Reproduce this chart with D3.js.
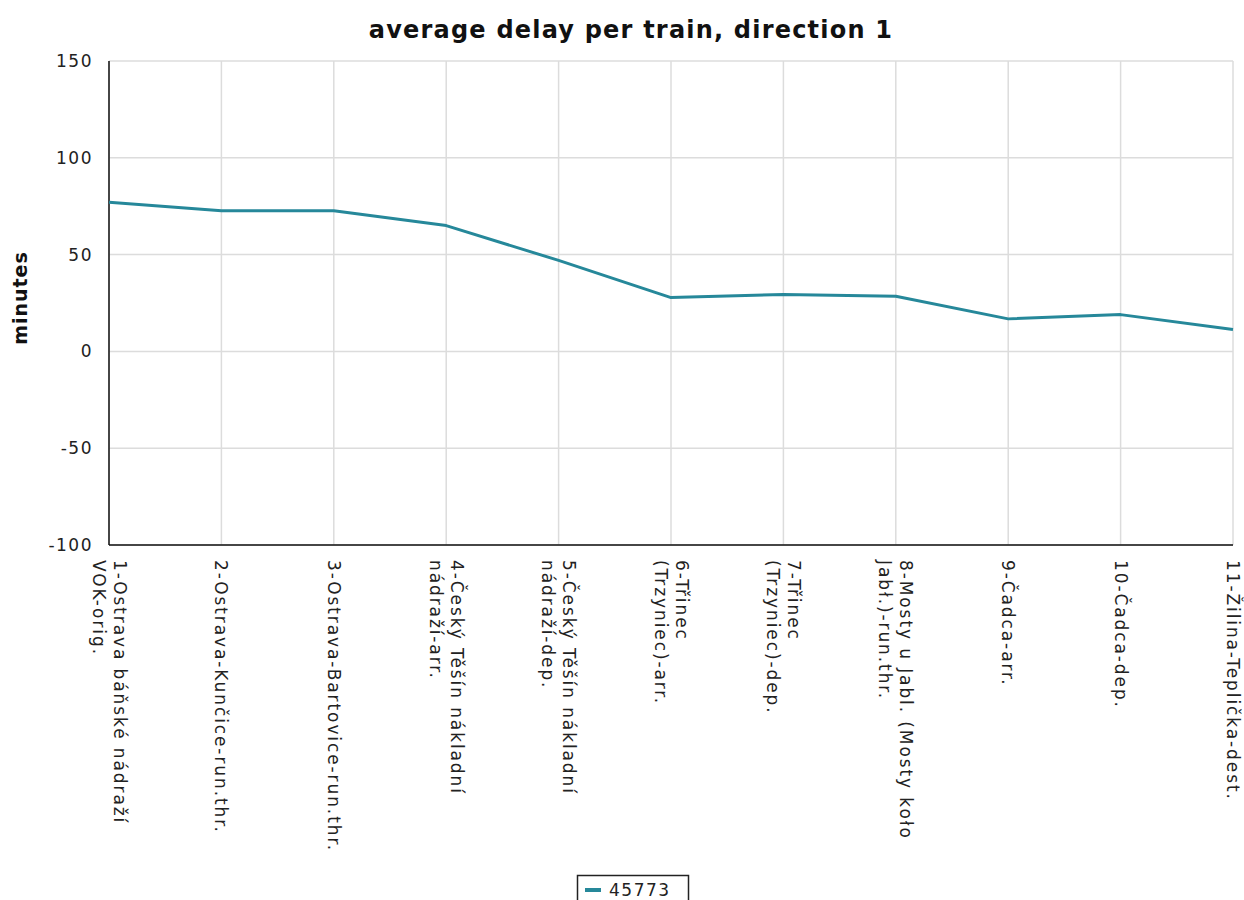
<!DOCTYPE html>
<html>
<head>
<meta charset="utf-8">
<script src="https://cdn.jsdelivr.net/npm/d3@7"></script>
<style>
  html, body { margin: 0; padding: 0; background: #fff; }
  svg { display: block; }
  text { font-family: "DejaVu Sans", sans-serif; }
</style>
</head>
<body>
<svg id="chart" width="1244" height="900"></svg>
<script>
const titleText = "average delay per train, direction 1";
const yAxisTitle = "minutes";
const seriesName = "45773";
const categories = [
  ["1-Ostrava báňské nádraží", "VOK-orig."],
  ["2-Ostrava-Kunčice-run.thr."],
  ["3-Ostrava-Bartovice-run.thr."],
  ["4-Český Těšín nákladní", "nádraží-arr."],
  ["5-Český Těšín nákladní", "nádraží-dep."],
  ["6-Třinec", "(Trzyniec)-arr."],
  ["7-Třinec", "(Trzyniec)-dep."],
  ["8-Mosty u Jabl. (Mosty koło", "Jabł.)-run.thr."],
  ["9-Čadca-arr."],
  ["10-Čadca-dep."],
  ["11-Žilina-Teplička-dest."]
];
const values = [77, 72.7, 72.7, 65, 47, 27.8, 29.4, 28.5, 16.8, 19, 11.3];
const yTicks = [-100, -50, 0, 50, 100, 150];

const svg = d3.select("#chart");
const pLeft = 109, pRight = 1233, pTop = 61, pBottom = 545;
const lineColor = "#26889a";

const x = d3.scalePoint().domain(categories.map((d, i) => i)).range([pLeft, pRight]);
const y = d3.scaleLinear().domain([-100, 150]).range([pBottom, pTop]);

// grid
const grid = svg.append("g");
grid.selectAll("line.h").data(yTicks).join("line")
  .attr("x1", pLeft).attr("x2", pRight)
  .attr("y1", d => y(d)).attr("y2", d => y(d))
  .attr("stroke", "#dcdcdc").attr("stroke-width", 1.5);
grid.selectAll("line.v").data(categories.map((d, i) => i)).join("line")
  .attr("x1", d => x(d)).attr("x2", d => x(d))
  .attr("y1", pTop).attr("y2", pBottom)
  .attr("stroke", "#dcdcdc").attr("stroke-width", 1.5);

// y axis
const yAxis = d3.axisLeft(y).tickValues(yTicks).tickSize(0).tickPadding(16)
  .tickFormat(d => String(d));
const yg = svg.append("g").attr("transform", `translate(${pLeft},0)`).call(yAxis);
yg.select(".domain").remove();
yg.selectAll("text").attr("font-size", 17).attr("letter-spacing", 1.5)
  .attr("fill", "#222").attr("font-family", "DejaVu Sans");

// x axis labels
const xAxis = d3.axisBottom(x).tickSize(0).tickFormat("");
const xg = svg.append("g").attr("transform", `translate(0,${pBottom})`).call(xAxis);
xg.select(".domain").remove();
const lh = 21;
categories.forEach((lines, i) => {
  const n = lines.length;
  const t = svg.append("text")
    .attr("transform", `translate(${x(i)},560) rotate(90)`)
    .attr("font-size", 17).attr("letter-spacing", 1.9).attr("fill", "#222");
  lines.forEach((l, j) => {
    const off = (j - (n - 1) / 2) * lh;
    t.append("tspan").attr("x", 0).attr("y", off).attr("dy", "0.35em").text(l);
  });
});

// axes lines
svg.append("line").attr("x1", pLeft).attr("x2", pLeft).attr("y1", pTop).attr("y2", pBottom)
  .attr("stroke", "#111").attr("stroke-width", 1.5);
svg.append("line").attr("x1", pLeft).attr("x2", pRight).attr("y1", pBottom).attr("y2", pBottom)
  .attr("stroke", "#111").attr("stroke-width", 1.5);

// series line
const line = d3.line().x((d, i) => x(i)).y(d => y(d));
svg.append("path").datum(values).attr("d", line)
  .attr("fill", "none").attr("stroke", lineColor).attr("stroke-width", 3)
  .attr("stroke-linejoin", "round");

// title
svg.append("text").attr("x", 631).attr("y", 38).attr("text-anchor", "middle")
  .attr("font-size", 24).attr("font-weight", "bold").attr("letter-spacing", 1.2)
  .attr("fill", "#111").text(titleText);

// y axis title
svg.append("text").attr("transform", "translate(27,298) rotate(-90)")
  .attr("text-anchor", "middle").attr("font-size", 19).attr("font-weight", "bold")
  .attr("letter-spacing", 1).attr("fill", "#111").text(yAxisTitle);

// legend
const lg = svg.append("g");
lg.append("rect").attr("x", 577.5).attr("y", 875.5).attr("width", 111).attr("height", 40)
  .attr("fill", "#fff").attr("stroke", "#222").attr("stroke-width", 1.5);
lg.append("line").attr("x1", 585).attr("x2", 601).attr("y1", 890).attr("y2", 890)
  .attr("stroke", lineColor).attr("stroke-width", 4);
lg.append("text").attr("x", 609).attr("y", 896).attr("font-size", 17)
  .attr("letter-spacing", 1.5).attr("fill", "#222").text(seriesName);
</script>
</body>
</html>
